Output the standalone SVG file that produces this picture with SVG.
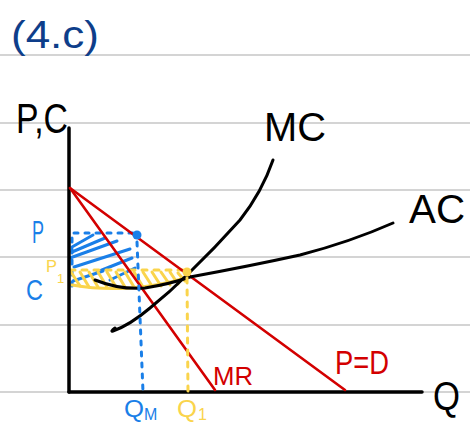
<svg xmlns="http://www.w3.org/2000/svg" width="470" height="427" viewBox="0 0 470 427">
<style>
.rule{stroke:#d4d4d4;stroke-width:2}
.ax{stroke:#000;stroke-width:3.5;fill:none;stroke-linecap:round}
.blk{stroke:#000;stroke-width:3;fill:none;stroke-linecap:round;stroke-linejoin:round}
.red{stroke:#d30000;stroke-width:2.6;fill:none;stroke-linecap:round}
.blu{stroke:#1a7fe8;stroke-width:3;fill:none;stroke-linecap:round}
.bdot{stroke:#1a7fe8;stroke-width:3;fill:none;stroke-linecap:round;stroke-dasharray:4 7}
.ylw{stroke:#fad44c;stroke-width:3;fill:none;stroke-linecap:round}
.ydot{stroke:#fad44c;stroke-width:3;fill:none;stroke-linecap:round;stroke-dasharray:5 7}
text{font-family:"Liberation Sans","DejaVu Sans",sans-serif}
.tb{fill:#000}
.tblue{fill:#1a7fe8}
.tred{fill:#d30000}
.tyel{fill:#fad44c}
</style>
<rect width="470" height="427" fill="#fff"/>
<g id="rules">
<line class="rule" x1="0" y1="55" x2="470" y2="55"/>
<line class="rule" x1="0" y1="123" x2="470" y2="123"/>
<line class="rule" x1="0" y1="190" x2="470" y2="190"/>
<line class="rule" x1="0" y1="257" x2="470" y2="257"/>
<line class="rule" x1="0" y1="325" x2="470" y2="325"/>
<line class="rule" x1="0" y1="392" x2="470" y2="392"/>
</g>
<g id="title"><text x="11" y="48" font-size="38" fill="#0e3e8a" textLength="88" lengthAdjust="spacingAndGlyphs">(4.c)</text></g>
<g id="profit-blue">
<path class="blu" d="M72 247 L93 235 M70 258 L117 241 M74 267 L130 249 M97 272 L132 258 M73 281 L103 271 M110 280 L135 268 M72 252 L105 238"/>
<path class="bdot" d="M74 233 L136 233 M72 238 L72 292"/>
</g>
<g id="hatch-yellow">
<path class="ydot" d="M70 270 L186 270"/>
<path class="ylw" d="M71 272 L80 286 M80 272 L89 287 M89 272 L98 287 M98 272 L107 287 M107 272 L116 287 M116 272 L125 287 M125 272 L134 287 M134 272 L143 287 M143 272 L152 286 M152 272 L161 286 M161 272 L170 285 M170 272 L178 284 M178 273 L185 281"/>
<path class="ylw" d="M72 285 Q100 290 130 288 Q160 286 185 278"/>
</g>
<g id="connectors">
<line class="ax" x1="69" y1="128" x2="69" y2="392"/>
<line class="ax" x1="69" y1="392" x2="422" y2="392"/>
<line id="demand" class="red" x1="70" y1="188" x2="345" y2="390"/>
<line id="mr" class="red" x1="70" y1="188" x2="215" y2="390"/>
<path id="mc" class="blk" d="M115 328 Q110 332 113 331 Q130 325 150 308 Q170 292 188 274 Q215 248 240 220 Q262 192 273 160"/>
<path id="ac" class="blk" d="M95 280 Q120 290 145 288 Q170 284 190 277 Q250 266 300 255 Q350 242 393 223"/>
<path class="bdot" d="M137 242 L143 392"/>
<path class="ydot" d="M187 278 L188 392"/>
<circle cx="137" cy="235" r="4.5" fill="#1a7fe8"/>
<circle cx="187" cy="272" r="4.5" fill="#fad44c"/>
</g>
<g id="labels">
<text class="tb" x="16" y="133" font-size="42" textLength="52" lengthAdjust="spacingAndGlyphs">P,C</text>
<text class="tb" x="264" y="141" font-size="40" textLength="62" lengthAdjust="spacingAndGlyphs">MC</text>
<text class="tb" x="409" y="223" font-size="40" textLength="56" lengthAdjust="spacingAndGlyphs">AC</text>
<text class="tb" x="433" y="410" font-size="40" textLength="27" lengthAdjust="spacingAndGlyphs">Q</text>
<text class="tblue" x="32" y="243" font-size="32" textLength="12" lengthAdjust="spacingAndGlyphs">P</text>
<text class="tblue" x="26" y="300" font-size="30" textLength="17" lengthAdjust="spacingAndGlyphs">C</text>
<text class="tyel" x="46" y="272" font-size="17" textLength="11" lengthAdjust="spacingAndGlyphs">P</text>
<text class="tyel" x="57" y="283" font-size="13">1</text>
<text class="tblue" x="124" y="417" font-size="24" textLength="20" lengthAdjust="spacingAndGlyphs">Q</text>
<text class="tblue" x="144" y="420" font-size="16">M</text>
<text class="tyel" x="177" y="417" font-size="24" textLength="20" lengthAdjust="spacingAndGlyphs">Q</text>
<text class="tyel" x="198" y="420" font-size="16">1</text>
<text class="tred" x="213" y="385" font-size="26" textLength="40" lengthAdjust="spacingAndGlyphs">MR</text>
<text class="tred" x="335" y="374" font-size="34" textLength="54" lengthAdjust="spacingAndGlyphs">P=D</text>
</g>
</svg>
